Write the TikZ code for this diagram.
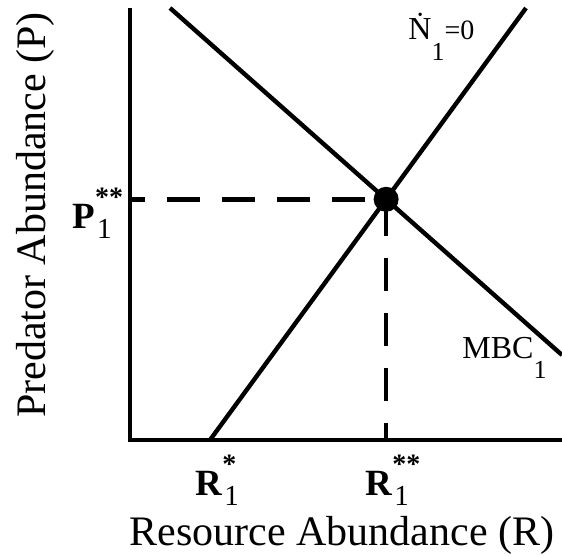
\documentclass[tikz,border=0pt]{standalone}
\usepackage{fontspec}
\setmainfont{Liberation Serif}
\usetikzlibrary{positioning,calc}
\newcommand{\eqlab}[2]{\textbf{#1}\rlap{\raisebox{11pt}{\fontsize{14}{14}\selectfont\textbf{#2}}}\kern1pt\raisebox{-5pt}{\fontsize{14.5}{14}\selectfont 1}}
\newcommand{\curvesub}{\raisebox{-10pt}{\fontsize{13}{13}\selectfont 1}}
\tikzset{
  axis/.style={line width=2.3pt},
  iso/.style={line width=2.2pt},
  guide/.style={line width=2.3pt, dash pattern=on 16.5pt off 11pt},
  lab/.style={font=\fontsize{21}{25}\selectfont, inner sep=0pt},
  eqtag/.style={font=\fontsize{18.5}{22}\selectfont, inner sep=0pt},
  curvetag/.style={font=\fontsize{16}{19}\selectfont, inner sep=0pt},
}
\begin{document}
\begin{tikzpicture}[x=0.5pt, y=-0.5pt]
  \useasboundingbox (0,0) rectangle (562,556);
  % axes
  \coordinate (O) at (130,440);
  \coordinate (ytop) at (130,8);
  \coordinate (xend) at (562,440);
  \draw[axis] (ytop) -- (O) -- (xend);
  % isoclines
  \coordinate (rs) at (210,440);
  \coordinate (ntop) at (526,8);
  \coordinate (mtop) at (170,8);
  \coordinate (mend) at (562,355);
  \draw[iso] (rs) -- (ntop);
  \draw[iso] (mtop) -- (mend);
  % equilibrium
  \coordinate (eq) at (intersection of rs--ntop and mtop--mend);
  \draw[guide, dash phase=9pt] (eq -| O) -- (eq);
  \draw[guide, dash phase=8pt] (eq |- O) -- (eq);
  \node[circle, fill, inner sep=0pt, minimum size=12.5pt] (eqdot) at (eq) {};
  % labels
  \node[eqtag, anchor=base west] (pss) at (72,228) {\eqlab{P}{**}};
  \node[eqtag, anchor=base west] (rs1) at (195,495) {\eqlab{R}{*}};
  \node[eqtag, anchor=base west] (rss) at (365,495) {\eqlab{R}{**}};
  \node[curvetag, anchor=base west] (nlab) at (408,40) {\.{N}\curvesub{\fontsize{14}{14}\selectfont =0}};
  \node[curvetag, anchor=base west] (mlab) at (462,358) {MBC\curvesub};
  \node[lab, anchor=base] (xlab) at (342,545) {Resource Abundance (R)};
  \node[lab, anchor=base, rotate=90] (ylab) at (45,215) {Predator Abundance (P)};
\end{tikzpicture}
\end{document}
